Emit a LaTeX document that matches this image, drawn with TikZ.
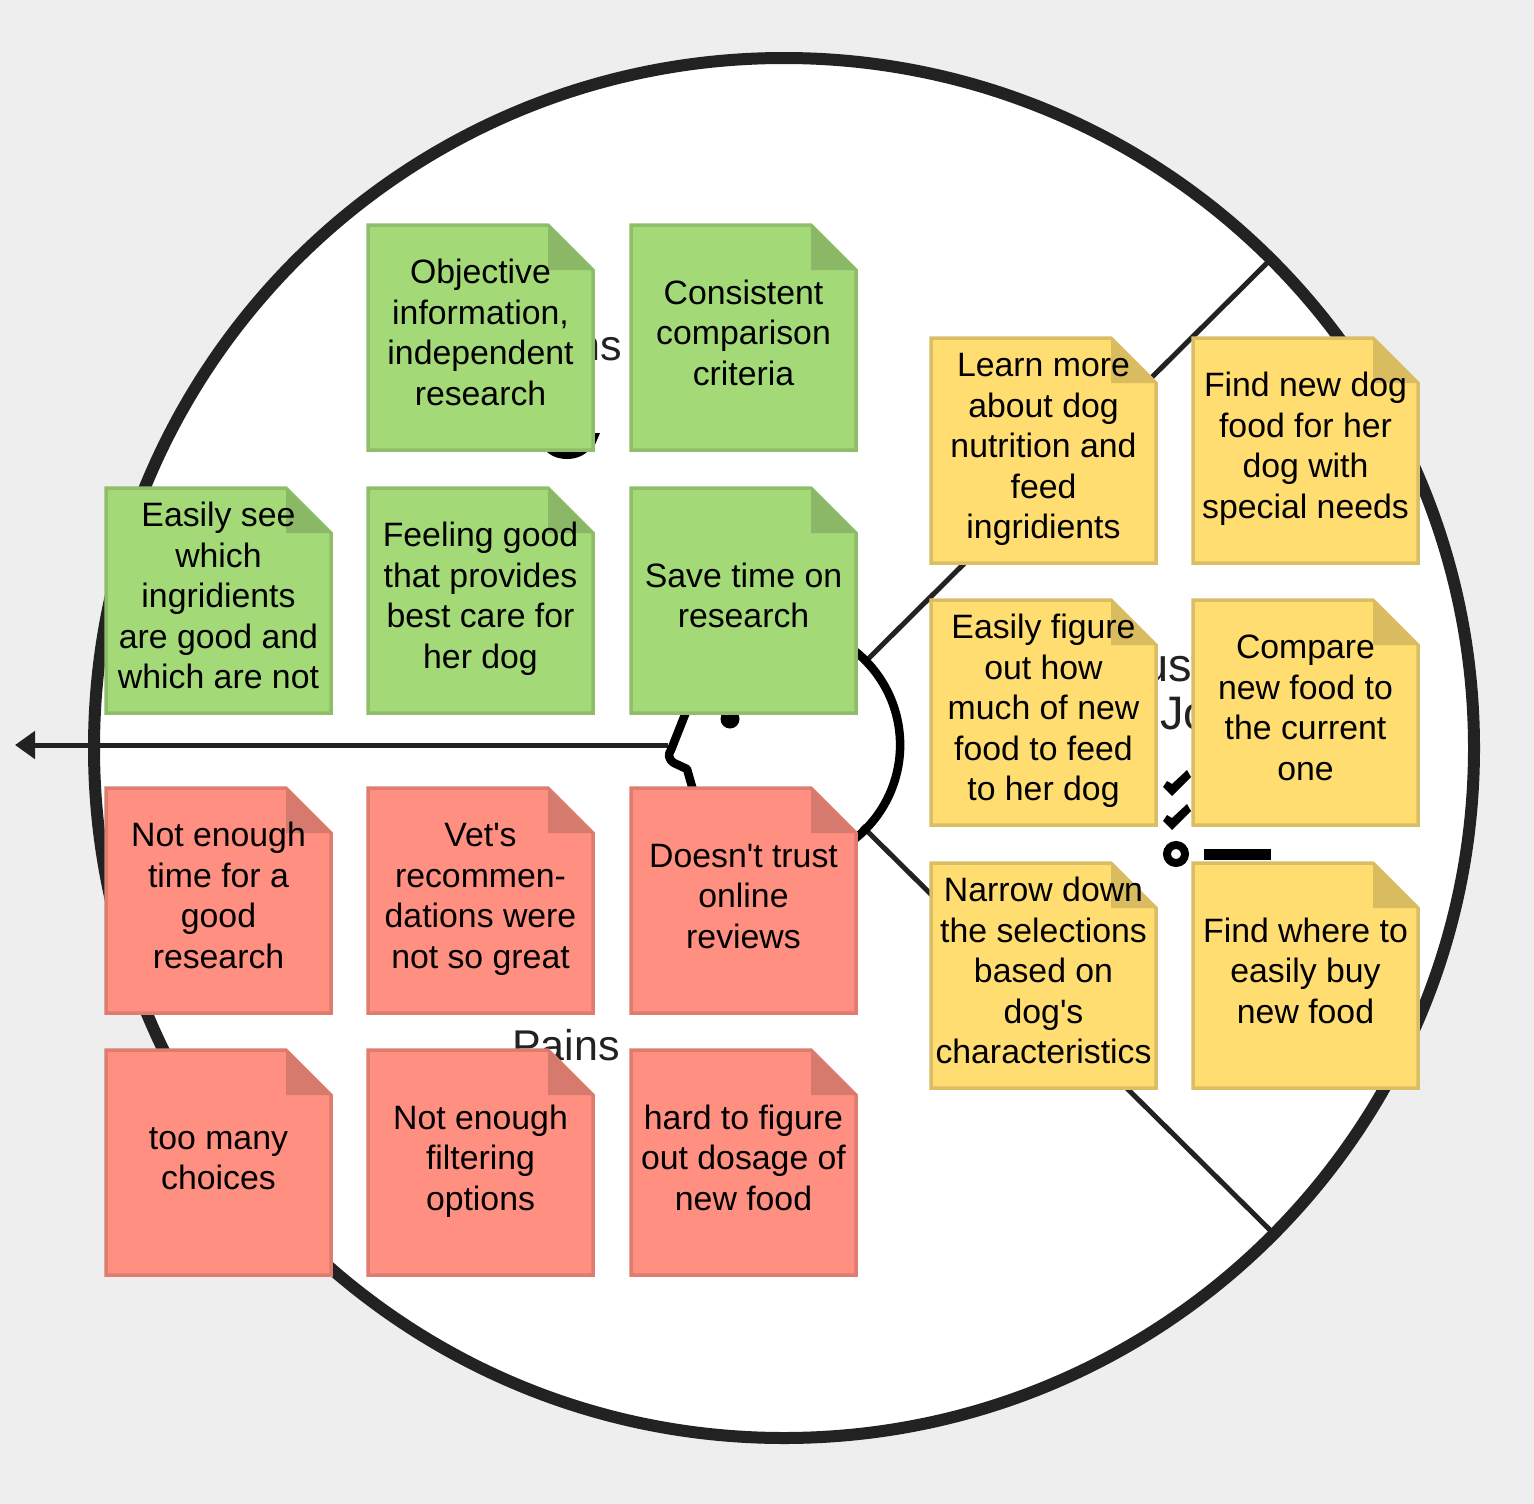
\documentclass[tikz,border=0pt]{standalone}
\usepackage{fontspec}
\setmainfont{Liberation Sans}
\usetikzlibrary{arrows.meta}
\usetikzlibrary{positioning}

\definecolor{pagegrey}{HTML}{EEEEEE}
\definecolor{inkblack}{HTML}{000000}
\definecolor{inkdark}{HTML}{222222}
\definecolor{greenfill}{HTML}{A3D977}
\definecolor{greenedge}{HTML}{8FBD69}
\definecolor{greenfold}{HTML}{8BB866}
\definecolor{redfill}{HTML}{FF8F80}
\definecolor{rededge}{HTML}{DE7C70}
\definecolor{redfold}{HTML}{D67A6E}
\definecolor{yellowfill}{HTML}{FFDD71}
\definecolor{yellowedge}{HTML}{D9BE66}
\definecolor{yellowfold}{HTML}{D9BC60}

\tikzset{
  greennote/.style={draw=greenedge,fill=greenfill},
  rednote/.style={draw=rededge,fill=redfill},
  yellownote/.style={draw=yellowedge,fill=yellowfill},
  notetext/.style={align=center,inner sep=0pt,text=black,
    font=\fontsize{33.8}{40.5}\selectfont},
  sectiontext/.style={align=center,inner sep=0pt,text=inkdark,
    font=\fontsize{43}{48}\selectfont},
  jobstext/.style={sectiontext,font=\fontsize{47}{48}\selectfont},
  spoke/.style={draw=inkdark,line width=5pt},
}

% name, top left corner, colour, text
\newcommand{\stickynote}[4]{
  \begin{scope}[shift={(#2)}]
    \draw[#3note,line width=3.5pt,line join=miter]
      (0,0) -- (180,0) -- (225,45) -- (225,225) -- (0,225) -- cycle;
    \fill[#3fold] (180,0) -- (180,45) -- (225,45) -- cycle;
    \node[notetext] (#1) at (112.5,111.5) {\strut #4\strut};
  \end{scope}
}

\begin{document}
\begin{tikzpicture}[x=1pt,y=-1pt]
\useasboundingbox[fill=pagegrey] (0,0) rectangle (1534,1504);

\fill[white] (784,748) circle (690);
\draw[inkdark,line width=12pt] (784,748) circle (690);

% spokes and head
\coordinate (spokeTopEnd) at (1267,263);
\coordinate (spokeTopStart) at (865,662);
\coordinate (spokeLowEnd) at (1270,1230);
\coordinate (spokeLowStart) at (862,826);
\coordinate (noseBridge) at (668,745);
\coordinate (arrowEnd) at (15,745);
\draw[spoke] (spokeTopStart) -- (spokeTopEnd);
\draw[spoke] (spokeLowStart) -- (spokeLowEnd);
\draw[spoke,-{Triangle[length=20pt,width=27pt]}] (noseBridge) -- (arrowEnd);

\draw[inkblack,line width=8.5pt,line join=round]
  (854,650.4) arc[start angle=-52,end angle=52,radius=120]
  (693,790) -- (687,769) -- (674,763) .. controls (668,759) and (668,754) .. (671,750) -- (686,712);
\fill[inkblack] (730,719) circle (9.5);

% section titles, covered by the notes
\node[sectiontext] (gainsTitle) at (566,345) {Gains};
\fill[inkblack] (543,447) .. controls (552,463) and (582,463) .. (591,447) -- cycle;
\fill[inkblack] (600,433) -- (594,447) -- (580,447) -- (580,433) -- cycle;

\node[sectiontext] (painsTitle) at (566,1045) {Pains};

\node[jobstext] (jobsTitle) at (1210,689.5) {Customer\\Jobs};
\fill[inkblack] (1163,787) -- (1172,796) -- (1191,777) -- (1187,770) -- (1172,784) -- (1167,781) -- cycle;
\fill[inkblack] (1163,821) -- (1172,830) -- (1191,811) -- (1187,804) -- (1172,818) -- (1167,815) -- cycle;
\draw[inkblack,line width=8pt] (1176,854) circle (9);
\fill[inkblack] (1204,849) rectangle (1271,860);

% gains
\stickynote{gainObjective}{368,225}{green}{Objective\\information,\\independent\\research}
\stickynote{gainCriteria}{631,225}{green}{Consistent\\comparison\\criteria}
\stickynote{gainIngridients}{106,488}{green}{Easily see\\which\\ingridients\\are good and\\which are not}
\stickynote{gainFeeling}{368,488}{green}{Feeling good\\that provides\\best care for\\her dog}
\stickynote{gainTime}{631,488}{green}{Save time on\\research}

% pains
\stickynote{painTime}{106,788}{red}{Not enough\\time for a\\good\\research}
\stickynote{painVet}{368,788}{red}{Vet\textquotesingle s\\recommen-\\dations were\\not so great}
\stickynote{painReviews}{631,788}{red}{Doesn\textquotesingle t trust\\online\\reviews}
\stickynote{painChoices}{106,1050}{red}{too many\\choices}
\stickynote{painFilter}{368,1050}{red}{Not enough\\filtering\\options}
\stickynote{painDosage}{631,1050}{red}{hard to figure\\out dosage of\\new food}

% jobs
\stickynote{jobLearn}{931,338}{yellow}{Learn more\\about dog\\nutrition and\\feed\\ingridients}
\stickynote{jobFind}{1193,338}{yellow}{Find new dog\\food for her\\dog with\\special needs}
\stickynote{jobAmount}{931,600}{yellow}{Easily figure\\out how\\much of new\\food to feed\\to her dog}
\stickynote{jobCompare}{1193,600}{yellow}{Compare\\new food to\\the current\\one}
\stickynote{jobNarrow}{931,863}{yellow}{Narrow down\\the selections\\based on\\dog\textquotesingle s\\characteristics}
\stickynote{jobBuy}{1193,863}{yellow}{Find where to\\easily buy\\new food}
\end{tikzpicture}
\end{document}
